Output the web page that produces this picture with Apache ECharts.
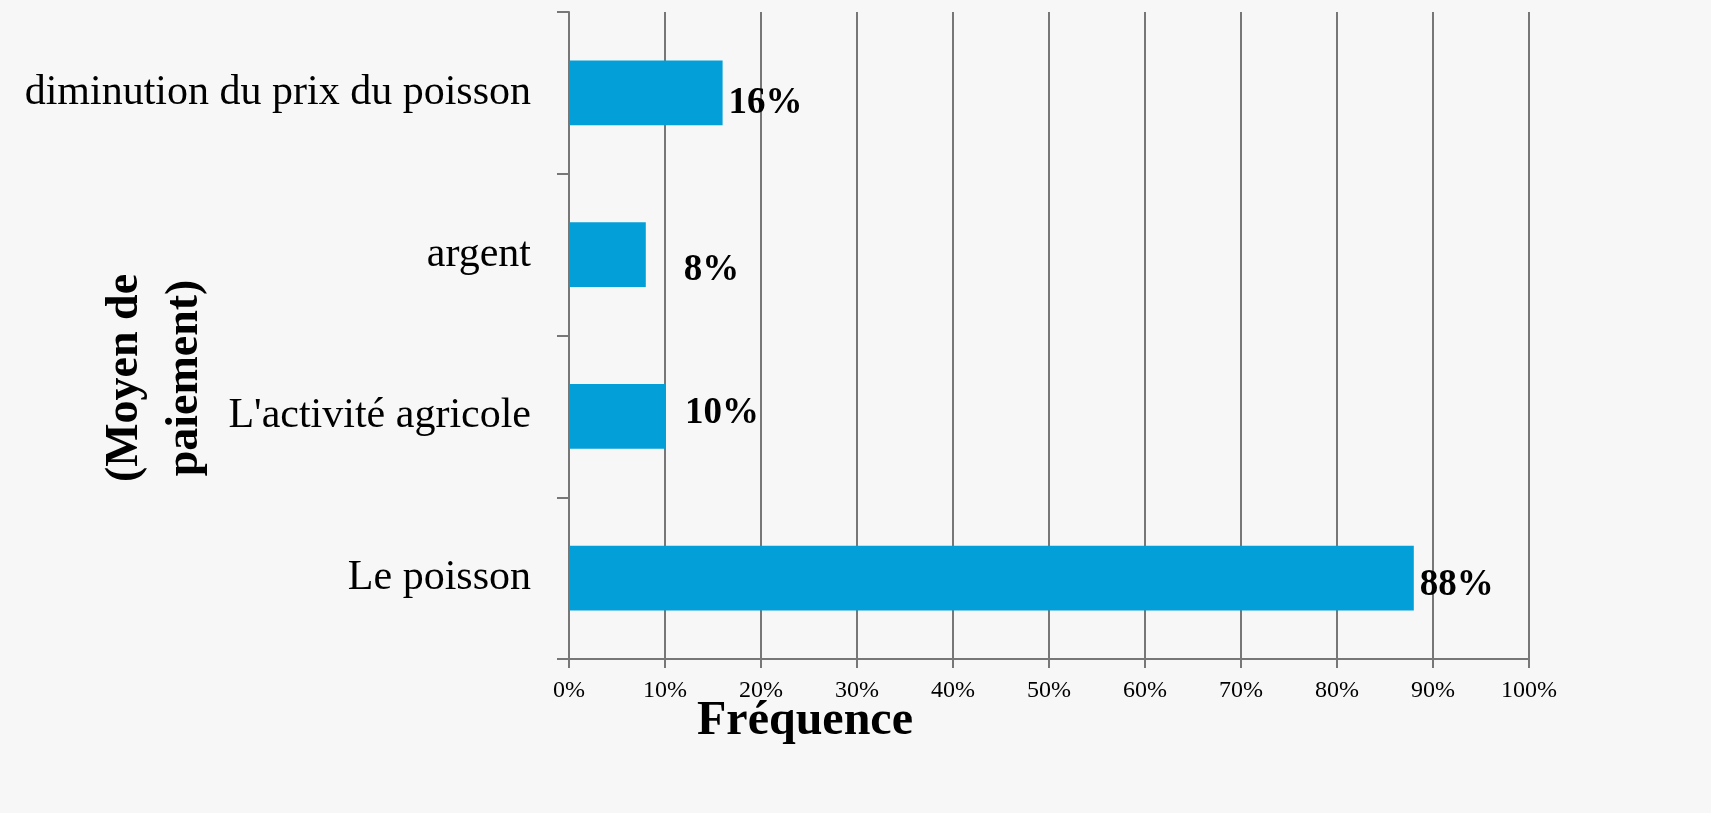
<!DOCTYPE html>
<html>
<head>
<meta charset="utf-8">
<script src="https://cdn.jsdelivr.net/npm/echarts@6/dist/echarts.min.js"></script>
<style>
html,body{margin:0;padding:0;width:1711px;height:813px;background:#f7f7f7;}
#chart{width:1711px;height:813px;}
</style>
</head>
<body>
<div id="chart"></div>
<script>
const categories = ['Le poisson', "L'activité agricole", 'argent', 'diminution du prix du poisson'];
const values = [88, 10, 8, 16];
const xTicks = { min: 0, max: 100, interval: 10 };
const yTitle = '(Moyen de\npaiement)';
const xTitle = 'Fréquence';

const labelOffsets = [[0, 7], [14, -3], [32, 16], [0, 11]];
const FONT = '"Liberation Serif", "DejaVu Serif", serif';

const chart = echarts.init(document.getElementById('chart'));
chart.setOption({
  backgroundColor: '#f7f7f7',
  animation: false,
  grid: { left: 569, right: 182, top: 12, bottom: 154, containLabel: false },
  xAxis: {
    type: 'value',
    min: xTicks.min, max: xTicks.max, interval: xTicks.interval,
    axisLine: { show: true, lineStyle: { color: '#777', width: 2 } },
    axisTick: { show: true, length: 9, lineStyle: { color: '#777', width: 2 } },
    splitLine: { show: true, lineStyle: { color: '#777', width: 2 } },
    axisLabel: { formatter: '{value}%', color: '#000', fontFamily: FONT, fontSize: 24, margin: 20 }
  },
  yAxis: {
    type: 'category',
    data: categories,
    axisLine: { show: true, lineStyle: { color: '#777', width: 2 } },
    axisTick: { show: true, length: 12, alignWithLabel: false, lineStyle: { color: '#777', width: 2 } },
    splitLine: { show: false },
    axisLabel: { color: '#000', fontFamily: FONT, fontSize: 42, margin: 38 }
  },
  series: [{
    type: 'bar',
    barWidth: '40%',
    itemStyle: { color: '#039FD9' },
    data: values.map((v, i) => ({
      value: v,
      label: { offset: labelOffsets[i] }
    })),
    label: {
      show: true, position: 'right', distance: 6,
      formatter: '{c}%', color: '#000', fontFamily: FONT, fontSize: 37, fontWeight: 'bold'
    }
  }],
  graphic: [
    {
      type: 'text', x: 155, y: 378, rotation: Math.PI / 2,
      style: { text: yTitle, fontFamily: FONT, fontSize: 46, fontWeight: 'bold', fill: '#000',
               align: 'center', verticalAlign: 'middle', lineHeight: 60 }
    },
    {
      type: 'text', x: 805, y: 722,
      style: { text: xTitle, fontFamily: FONT, fontSize: 48, fontWeight: 'bold', fill: '#000',
               align: 'center', verticalAlign: 'middle' }
    }
  ]
});
</script>
</body>
</html>
